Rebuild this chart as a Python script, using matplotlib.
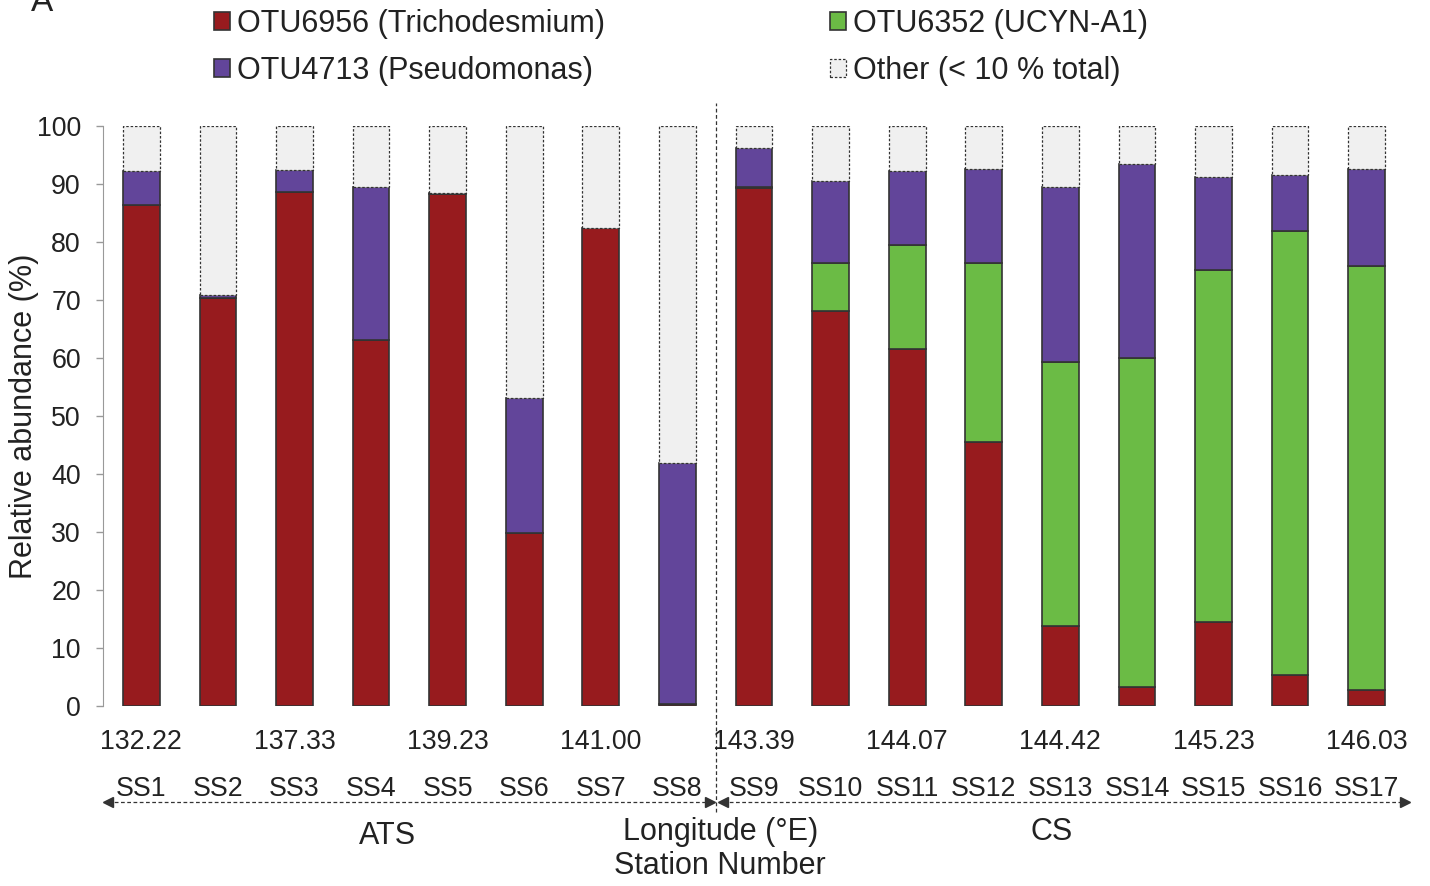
import numpy as np
import matplotlib
matplotlib.use("Agg")
import matplotlib.pyplot as plt
import matplotlib.transforms as mtransforms

plt.rcParams['font.family'] = ['Liberation Sans', 'DejaVu Sans']

stations = ['SS1', 'SS2', 'SS3', 'SS4', 'SS5', 'SS6', 'SS7', 'SS8', 'SS9',
            'SS10', 'SS11', 'SS12', 'SS13', 'SS14', 'SS15', 'SS16', 'SS17']
longitudes = ['132.22', '', '137.33', '', '139.23', '', '141.00', '', '143.39',
              '', '144.07', '', '144.42', '', '145.23', '', '146.03']

# relative abundance (%) per station
trichodesmium = [86.4, 70.3, 88.6, 63.1, 88.3, 29.8, 82.4, 0.3, 89.3,
                 68.1, 61.6, 45.5, 13.8, 3.3, 14.5, 5.3, 2.8]
ucyn_a1 = [0, 0, 0, 0, 0, 0, 0, 0, 0.2,
           8.3, 17.9, 30.9, 45.5, 56.7, 60.7, 76.6, 73.1]
pseudomonas = [5.8, 0.6, 3.8, 26.4, 0.1, 23.3, 0.1, 41.6, 6.7,
               14.1, 12.7, 16.2, 30.2, 33.4, 16.0, 9.7, 16.7]

red = '#971B1E'
green = '#6BBB45'
purple = '#62459A'
grey = '#F0F0F0'
edge = '#333333'

x = np.arange(len(stations))
tri = np.array(trichodesmium)
ucy = np.array(ucyn_a1)
pse = np.array(pseudomonas)
other = 100 - tri - ucy - pse

fig = plt.figure(figsize=(14.3, 8.86), dpi=100)
ax = fig.add_axes([103 / 1430, 1 - 706 / 886, 1302 / 1430, 580 / 886])

w = 0.48
b1 = ax.bar(x, tri, w, color=red, edgecolor=edge, linewidth=1.2)
b2 = ax.bar(x, ucy, w, bottom=tri, color=green, edgecolor=edge, linewidth=1.2)
b3 = ax.bar(x, pse, w, bottom=tri + ucy, color=purple, edgecolor=edge, linewidth=1.2)
b4 = ax.bar(x, other, w, bottom=tri + ucy + pse, color=grey, edgecolor=edge,
            linewidth=0.9, linestyle=(0, (2, 1.5)))

ax.set_xlim(-0.5, 16.5)
ax.set_ylim(0, 100)
ax.set_yticks(np.arange(0, 101, 10))
ax.tick_params(axis='y', labelsize=19.3, length=5, width=1, color='#999999',
               pad=11, labelcolor='#222222')
ax.set_xticks([])
for s in ['top', 'right', 'bottom']:
    ax.spines[s].set_visible(False)
ax.spines['left'].set_color('#999999')

ax.set_ylabel('Relative abundance (%)', fontsize=22, color='#222222')
ax.yaxis.set_label_coords(-0.049, 0.5)

trans = mtransforms.blended_transform_factory(ax.transData, ax.transAxes)

# longitude and station rows under the bars
for xi, lon, st in zip(x, longitudes, stations):
    if lon:
        ax.text(xi, -0.0741, lon, transform=trans, ha='center', va='baseline',
                fontsize=19.3, color='#222222')
    ax.text(xi, -0.1552, st, transform=trans, ha='center', va='baseline',
            fontsize=19.3, color='#222222')

# ATS / CS split
ax.plot([7.5, 7.5], [-0.183, 1.04], transform=trans, clip_on=False,
        color=edge, lw=0.9, ls=(0, (3, 2)))
arr_y = -0.1655
for x0, x1 in [(-0.43, 7.42), (7.6, 16.5)]:
    ax.plot([x0, x1], [arr_y, arr_y], transform=trans, clip_on=False,
            color=edge, lw=0.9, ls=(0, (3, 2)))
    ax.plot([x0], [arr_y], marker='<', ms=7, color=edge, transform=trans, clip_on=False)
    ax.plot([x1], [arr_y], marker='>', ms=7, color=edge, transform=trans, clip_on=False)

ax.text(3.21, -0.224, 'ATS', transform=trans, ha='center', va='center',
        fontsize=22, color='#222222')
ax.text(11.88, -0.2172, 'CS', transform=trans, ha='center', va='center',
        fontsize=22, color='#222222')
ax.text(7.56, -0.2172, 'Longitude (°E)', transform=trans, ha='center', va='center',
        fontsize=22, color='#222222')
ax.text(7.56, -0.2759, 'Station Number', transform=trans, ha='center', va='center',
        fontsize=22, color='#222222')

fig.text(42 / 1430, 1 - 11 / 886, 'A', ha='center', va='baseline', fontsize=24,
         color='#222222')

fig.legend([b1, b3, b2, b4],
           ['OTU6956 (Trichodesmium)', 'OTU4713 (Pseudomonas)',
            'OTU6352 (UCYN-A1)', 'Other (< 10 % total)'],
           loc='upper left', bbox_to_anchor=(214 / 1430, 1 - 9 / 886), ncol=2,
           frameon=False, fontsize=22, borderpad=0, borderaxespad=0,
           handlelength=0.52, handleheight=0.52, handletextpad=0.23,
           columnspacing=7.36, labelspacing=0.55, labelcolor='#222222')

fig.savefig('out.png', dpi=100)
